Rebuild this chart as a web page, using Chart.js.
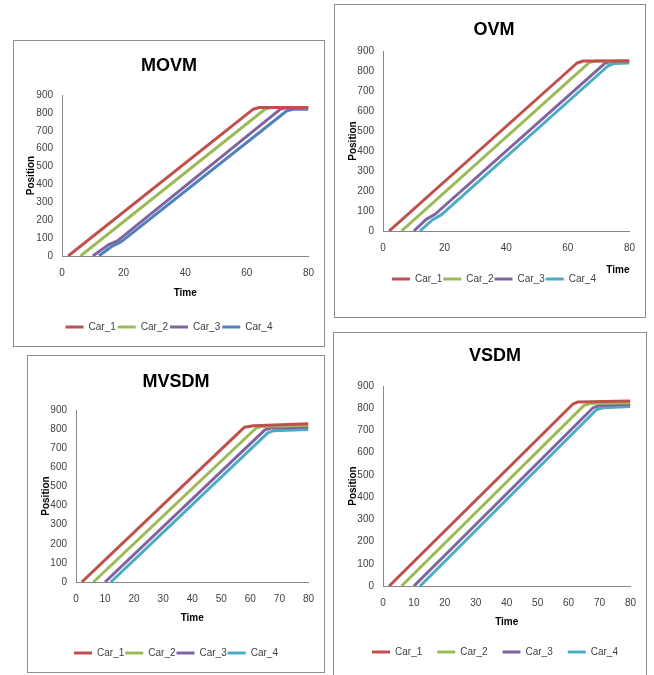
<!DOCTYPE html>
<html>
<head>
<meta charset="utf-8">
<script src="https://cdn.jsdelivr.net/npm/chart.js@4.4.1/dist/chart.umd.min.js"></script>
<style>
  html, body { margin: 0; padding: 0; background: #fff; width: 654px; height: 675px; overflow: hidden; }
  body { position: relative; }
  canvas { position: absolute; outline: 1px solid #8e8e8e; outline-offset: -1px; }
</style>
</head>
<body>
<canvas id="movm"></canvas>
<canvas id="ovm"></canvas>
<canvas id="mvsdm"></canvas>
<canvas id="vsdm"></canvas>
<script>
// series names and colours
const carNames = ['Car_1', 'Car_2', 'Car_3', 'Car_4'];
const carColors = ['#C0504D', '#9BBB59', '#8064A2', '#4BACC6'];
const movmColors = ['#C0504D', '#9BBB59', '#8064A2', '#4F81BD'];

// [time, position] points
const movmCar1 = [[2, 0], [62, 820], [64, 830], [80, 830]];
const movmCar2 = [[6, 0], [66, 822], [68, 830], [80, 830]];
const movmCar3 = [[10, 0], [15, 62], [18, 85], [71, 822], [73, 830], [80, 830]];
const movmCar4 = [[12, 0], [16, 52], [19, 78], [20, 90], [73, 812], [75, 820], [80, 820]];

const ovmCar1 = [[2, 0], [63, 840], [65, 850], [80, 850]];
const ovmCar2 = [[6, 0], [67, 843], [69, 850], [80, 850]];
const ovmCar3 = [[10, 0], [14, 58], [17, 85], [72, 838], [74, 848], [80, 850]];
const ovmCar4 = [[12, 0], [16, 55], [19, 82], [73, 825], [75, 838], [80, 840]];

const mvsdmCar1 = [[2, 0], [58, 810], [61, 818], [80, 828]];
const mvsdmCar2 = [[6, 0], [62, 806], [64, 814], [80, 820]];
const mvsdmCar3 = [[10, 0], [65, 796], [67, 806], [80, 810]];
const mvsdmCar4 = [[12, 0], [66, 780], [68, 792], [80, 798]];

const vsdmCar1 = [[2, 0], [61.5, 820], [63, 828], [80, 832]];
const vsdmCar2 = [[6, 0], [65, 813], [67, 821], [80, 825]];
const vsdmCar3 = [[10, 0], [68, 803], [70, 812], [80, 818]];
const vsdmCar4 = [[12, 0], [69, 793], [71, 802], [80, 808]];

// axis ranges
const timeMax = 80;
const positionMax = 900;
const positionStep = 100;

const FONT = "'Liberation Sans', Arial, sans-serif";
const TICK_COLOR = '#404040';
const AXIS_COLOR = '#868686';

// box position / inner spacing of each panel
const panels = [
  { id: 'movm', title: 'MOVM', left: 13, top: 40, w: 312, h: 307,
    series: [movmCar1, movmCar2, movmCar3, movmCar4], colors: movmColors, xStep: 20,
    pl: 0, rw: 16, yw: 49, yt: 12, tt: 15.2, tb: 18.2, xh: 64, timePad: 21, timeAlign: 'center', lp: 2, pb: 5 },
  { id: 'ovm', title: 'OVM', left: 334, top: 4, w: 312, h: 314,
    series: [ovmCar1, ovmCar2, ovmCar3, ovmCar4], colors: carColors, xStep: 20,
    pl: 8, rw: 14, yw: 41, yt: 5, tt: 15.2, tb: 10.2, xh: 42, timePad: -3, timeAlign: 'end', lp: 1, pb: 24 },
  { id: 'mvsdm', title: 'MVSDM', left: 27, top: 355, w: 298, h: 318,
    series: [mvsdmCar1, mvsdmCar2, mvsdmCar3, mvsdmCar4], colors: carColors, xStep: 10,
    pl: 0, rw: 16, yw: 49, yt: 13, tt: 16.2, tb: 17.2, xh: 65, timePad: 23, timeAlign: 'center', lp: 1, pb: 5 },
  { id: 'vsdm', title: 'VSDM', left: 333, top: 332, w: 314, h: 350,
    series: [vsdmCar1, vsdmCar2, vsdmCar3, vsdmCar4], colors: carColors, xStep: 10,
    pl: 10, rw: 14, yw: 40, yt: 4, tt: 13.2, tb: 19.2, xh: 46, timePad: 4, timeAlign: 'center', lp: 15, pb: 15 }
];

function drawPanel(p) {
  const canvas = document.getElementById(p.id);
  canvas.width = p.w;
  canvas.height = p.h;
  canvas.style.left = p.left + 'px';
  canvas.style.top = p.top + 'px';

  new Chart(canvas, {
    type: 'line',
    data: {
      datasets: p.series.map((pts, i) => ({
        label: carNames[i],
        data: pts.map(([t, pos]) => ({ x: t, y: pos })),
        borderColor: p.colors[i],
        backgroundColor: p.colors[i],
        borderWidth: 3,
        pointRadius: 0,
        tension: 0,
        borderJoinStyle: 'round',
        fill: false
      }))
    },
    options: {
      responsive: false,
      animation: false,
      layout: { padding: { left: p.pl, right: 0, top: 0, bottom: p.pb } },
      plugins: {
        title: {
          display: true,
          text: p.title,
          color: '#000',
          font: { family: FONT, size: 18, weight: 'bold' },
          padding: { top: p.tt, bottom: p.tb }
        },
        legend: {
          position: 'bottom',
          labels: {
            usePointStyle: true,
            pointStyle: 'line',
            pointStyleWidth: 18,
            color: TICK_COLOR,
            font: { family: FONT, size: 10 },
            padding: p.lp
          }
        },
        tooltip: { enabled: false }
      },
      scales: {
        x: {
          type: 'linear',
          min: 0,
          max: timeMax,
          ticks: { stepSize: p.xStep, color: TICK_COLOR, font: { family: FONT, size: 10 }, padding: 11, maxRotation: 0 },
          grid: { display: false, drawTicks: false },
          border: { color: AXIS_COLOR },
          title: {
            display: true, text: 'Time', align: p.timeAlign, color: '#000',
            font: { family: FONT, size: 10, weight: 'bold' },
            padding: { top: 0, bottom: p.timePad }
          },
          afterFit: s => { s.height = p.xh; }
        },
        y: {
          min: 0,
          max: positionMax,
          ticks: { stepSize: positionStep, color: TICK_COLOR, font: { family: FONT, size: 10 }, padding: 9 },
          grid: { display: false, drawTicks: false },
          border: { color: AXIS_COLOR },
          title: {
            display: true, text: 'Position', color: '#000',
            font: { family: FONT, size: 10, weight: 'bold' },
            padding: { top: p.yt, bottom: 0 }
          },
          afterFit: s => { s.width = p.yw; }
        },
        // empty right axis only used as spacing
        pad: {
          type: 'linear',
          position: 'right',
          display: true,
          ticks: { display: false },
          grid: { display: false, drawTicks: false },
          border: { display: false },
          afterFit: s => { s.width = p.rw; }
        }
      }
    }
  });
}

panels.forEach(drawPanel);
</script>
</body>
</html>
